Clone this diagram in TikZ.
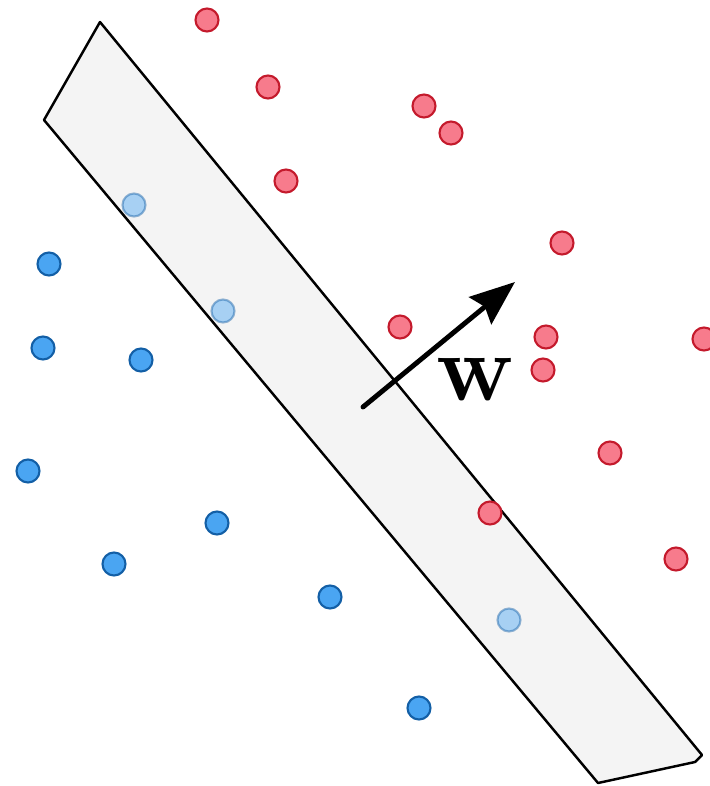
\documentclass[tikz,border=0pt]{standalone}
\usepackage{amsmath, amssymb}
\usepackage{tikz}
\usetikzlibrary{arrows.meta}

\definecolor{posfill}{HTML}{F77B8C}
\definecolor{posdraw}{HTML}{C41A2C}
\definecolor{negfill}{HTML}{4AA5F2}
\definecolor{negdraw}{HTML}{135FA6}
\definecolor{bandfill}{HTML}{F4F4F4}

\begin{document}
\begin{tikzpicture}[
        x=0.02cm, y=-0.02cm,
        posdot/.style={circle, draw=posdraw, fill=posfill, line width=1.2pt, minimum size=0.46cm, inner sep=0pt},
        negdot/.style={circle, draw=negdraw, fill=negfill, line width=1.2pt, minimum size=0.46cm, inner sep=0pt},
        faded/.style={negdot, opacity=0.45},
        band/.style={draw=black, fill=bandfill, line width=1.4pt, line join=round},
        wvec/.style={-{Stealth[length=0.9cm, width=0.7cm, inset=0.12cm]}, line width=2.8pt, line cap=round}
    ]
        \useasboundingbox (0,0) rectangle (709,786);

        % margin band
        \draw[band] (100,22) -- (44,120) -- (598,783) -- (695,762) -- (702,755) -- cycle;

        % positive class
        \foreach \px/\py [count=\i] in {207/20, 268/87, 424/106, 451/133, 286/181, 562/243, 400/327, 546/337, 704/339, 543/370, 610/453, 490/513, 676/559}
            \node[posdot] (p\i) at (\px,\py) {};

        % negative class
        \foreach \nx/\ny [count=\i] in {49/264, 43/348, 141/360, 28/471, 217/523, 114/564, 330/597, 419/708}
            \node[negdot] (n\i) at (\nx,\ny) {};

        % support vectors inside the margin
        \foreach \sx/\sy [count=\i] in {134/205, 223/311, 509/620}
            \node[faded] (s\i) at (\sx,\sy) {};

        % normal vector
        \coordinate (wfoot) at (363,407);
        \coordinate (wtip) at (515,282);
        \draw[wvec] (wfoot) -- (wtip);
        \node[font=\fontsize{54}{58}\selectfont\bfseries, inner sep=0pt] (wlabel) at (475,380) {w};
    \end{tikzpicture}
\end{document}
